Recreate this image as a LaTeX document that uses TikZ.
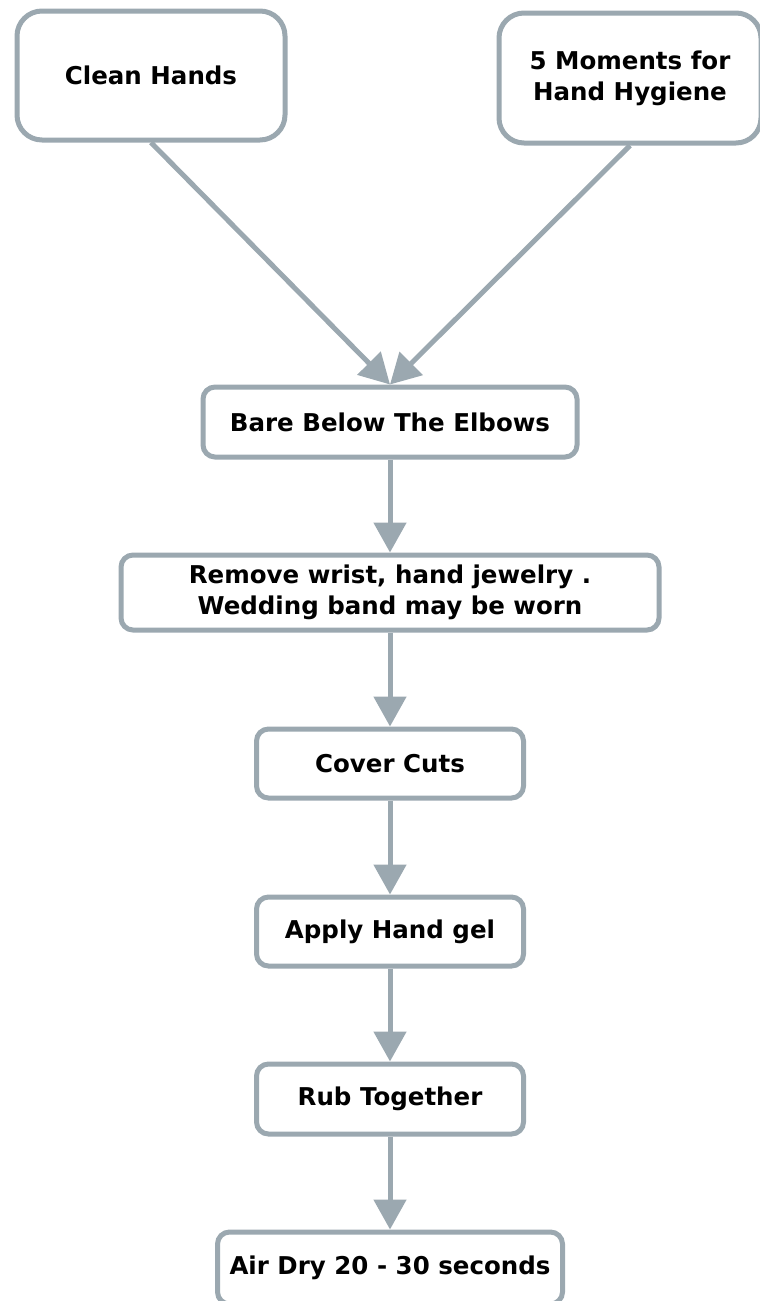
\documentclass[tikz,border=0pt]{standalone}
\usepackage{fontspec}
\setmainfont{DejaVu Sans}
\usetikzlibrary{arrows.meta}
\definecolor{edge}{RGB}{155,168,176}
\tikzset{
  box/.style={draw=edge, line width=5pt, fill=white, rounded corners=12pt, align=center,
    font=\bfseries\fontsize{24.5}{31}\selectfont, inner sep=0pt},
  bigbox/.style={box, rounded corners=25pt},
  conn/.style={draw=edge, line width=5pt, -{Triangle[length=30pt,width=32pt]}}
}
\begin{document}
\begin{tikzpicture}[x=1pt,y=-1pt]
\useasboundingbox (0,0) rectangle (760,1301);
\node[bigbox, minimum width=268pt, minimum height=129pt] (ch) at (151,75.5) {Clean Hands};
\node[bigbox, minimum width=262pt, minimum height=130pt] (fm) at (630,78) {5 Moments for\\Hand Hygiene};
\node[box, minimum width=374pt, minimum height=70pt] (bare) at (390,422) {Bare Below The Elbows};
\node[box, minimum width=538pt, minimum height=75pt] (rem) at (390,592.5) {Remove wrist, hand jewelry .\\Wedding band may be worn};
\node[box, minimum width=267pt, minimum height=69pt] (cut) at (390,763.5) {Cover Cuts};
\node[box, minimum width=267pt, minimum height=69pt] (gel) at (390,931.5) {Apply Hand gel};
\node[box, minimum width=267pt, minimum height=70pt] (rub) at (390,1099) {Rub Together};
\node[box, minimum width=345pt, minimum height=72pt] (air) at (390,1268) {Air Dry 20 - 30 seconds};
\draw[conn] (ch.south) -- (bare.north);
\draw[conn] (fm.south) -- (bare.north);
\draw[conn] (bare) -- (rem);
\draw[conn] (rem) -- (cut);
\draw[conn] (cut) -- (gel);
\draw[conn] (gel) -- (rub);
\draw[conn] (rub) -- (air);
\end{tikzpicture}
\end{document}
